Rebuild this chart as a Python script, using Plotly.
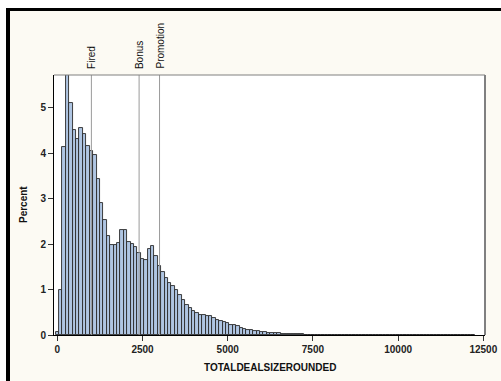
import plotly.graph_objects as go

# Deal size (rounded to nearest 100) and percentage of deals in each bin
deal_size = list(range(0, 12300, 100))
percent = [
    0.07, 0.98, 4.14, 5.72, 5.11, 4.51, 4.31, 4.55, 4.42, 4.15,
    4.05, 3.95, 3.43, 2.91, 2.53, 2.18, 1.98, 1.98, 2.02, 2.31,
    2.31, 2.04, 2.00, 1.93, 1.81, 1.68, 1.65, 1.90, 1.96, 1.73,
    1.51, 1.38, 1.25, 1.14, 1.07, 1.00, 0.89, 0.78, 0.67, 0.59,
    0.53, 0.48, 0.44, 0.43, 0.42, 0.41, 0.37, 0.34, 0.31, 0.29,
    0.26, 0.23, 0.21, 0.19, 0.16, 0.14, 0.12, 0.11, 0.09, 0.08,
    0.07, 0.06, 0.05, 0.045, 0.04, 0.035, 0.03, 0.026, 0.022, 0.019,
    0.016, 0.014, 0.012, 0.010, 0.009, 0.008, 0.007, 0.006, 0.005, 0.005,
    0.004, 0.004, 0.004, 0.003, 0.003, 0.003, 0.003, 0.003, 0.003, 0.003,
    0.003, 0.003, 0.003, 0.003, 0.003, 0.003, 0.003, 0.003, 0.003, 0.003,
    0.003, 0.003, 0.003, 0.003, 0.003, 0.003, 0.003, 0.003, 0.003, 0.003,
    0.003, 0.003, 0.003, 0.003, 0.003, 0.003, 0.003, 0.003, 0.003, 0.003,
    0.003, 0.003, 0.003,
]

# Reference thresholds
ref_labels = ["Fired", "Bonus", "Promotion"]
ref_values = [1000, 2400, 3000]

x_ticks = [0, 2500, 5000, 7500, 10000, 12500]
x_tick_text = ["0", "2500", "5000", "7500", "10000", "12500"]
y_ticks = [0, 1, 2, 3, 4, 5]

W, H = 501, 381
L, R, T, B = 54, 16, 75, 46
pw, ph = W - L - R, H - T - B


def px_x(p):
    return (p - L) / pw


def px_y(p):
    return (H - B - p) / ph


FONT = "Arial, Liberation Sans, sans-serif"
CREAM = "#FCFAF3"

fig = go.Figure()
fig.add_trace(go.Bar(
    x=deal_size, y=percent, width=100,
    marker=dict(color="#AFC5E2", line=dict(color="#2A2A2A", width=0.9)),
    showlegend=False,
))

shapes = []
for v in ref_values:
    shapes.append(dict(type="line", xref="x", yref="paper", x0=v, x1=v, y0=0, y1=1,
                       line=dict(color="#9A9A9A", width=1), layer="above"))
# gray top and right frame lines
shapes.append(dict(type="line", xref="paper", yref="paper", x0=0, x1=1, y0=1, y1=1,
                   line=dict(color="#808080", width=1.2)))
shapes.append(dict(type="line", xref="paper", yref="paper", x0=1, x1=1, y0=0, y1=1,
                   line=dict(color="#808080", width=2)))
# white margin and black border of the outer frame
shapes.append(dict(type="rect", xref="paper", yref="paper", x0=px_x(0), x1=px_x(6),
                   y0=px_y(H), y1=px_y(0), fillcolor="white", line=dict(width=0)))
shapes.append(dict(type="rect", xref="paper", yref="paper", x0=px_x(0), x1=px_x(W),
                   y0=px_y(8), y1=px_y(0), fillcolor="white", line=dict(width=0)))
shapes.append(dict(type="rect", xref="paper", yref="paper", x0=px_x(6), x1=px_x(10),
                   y0=px_y(H), y1=px_y(8), fillcolor="black", line=dict(width=0)))
shapes.append(dict(type="rect", xref="paper", yref="paper", x0=px_x(6), x1=px_x(W),
                   y0=px_y(11), y1=px_y(8), fillcolor="black", line=dict(width=0)))

annotations = []
for lab, v in zip(ref_labels, ref_values):
    annotations.append(dict(text=lab, x=v, y=1, xref="x", yref="paper", textangle=-90,
                            xanchor="center", yanchor="bottom", yshift=4, showarrow=False,
                            font=dict(family=FONT, size=10, color="#111")))
annotations.append(dict(text="<b>TOTALDEALSIZEROUNDED</b>", x=0.5, y=px_y(367),
                        xref="paper", yref="paper", xanchor="center", yanchor="middle",
                        showarrow=False, font=dict(family=FONT, size=10, color="#111")))
annotations.append(dict(text="<b>Percent</b>", x=px_x(23), y=0.5, xref="paper", yref="paper",
                        textangle=-90, xanchor="center", yanchor="middle", showarrow=False,
                        font=dict(family=FONT, size=10, color="#111")))

tick_font = dict(family=FONT, size=10, color="#222", weight="bold")

fig.update_layout(
    width=W, height=H,
    margin=dict(l=L, r=R, t=T, b=B),
    paper_bgcolor=CREAM, plot_bgcolor="white",
    bargap=0,
    shapes=shapes, annotations=annotations,
    xaxis=dict(range=[-97, 12550], tickvals=x_ticks, ticktext=x_tick_text,
               ticks="outside", ticklen=5, tickcolor="#333",
               showline=True, linecolor="black", linewidth=1,
               showgrid=False, zeroline=False, automargin=False, tickfont=tick_font),
    yaxis=dict(range=[0, 5.72], tickvals=y_ticks, ticks="outside", ticklen=5,
               tickcolor="#333", showline=True, linecolor="black", linewidth=1,
               showgrid=False, zeroline=False, automargin=False, tickfont=tick_font),
)

fig.write_html("out.html")
